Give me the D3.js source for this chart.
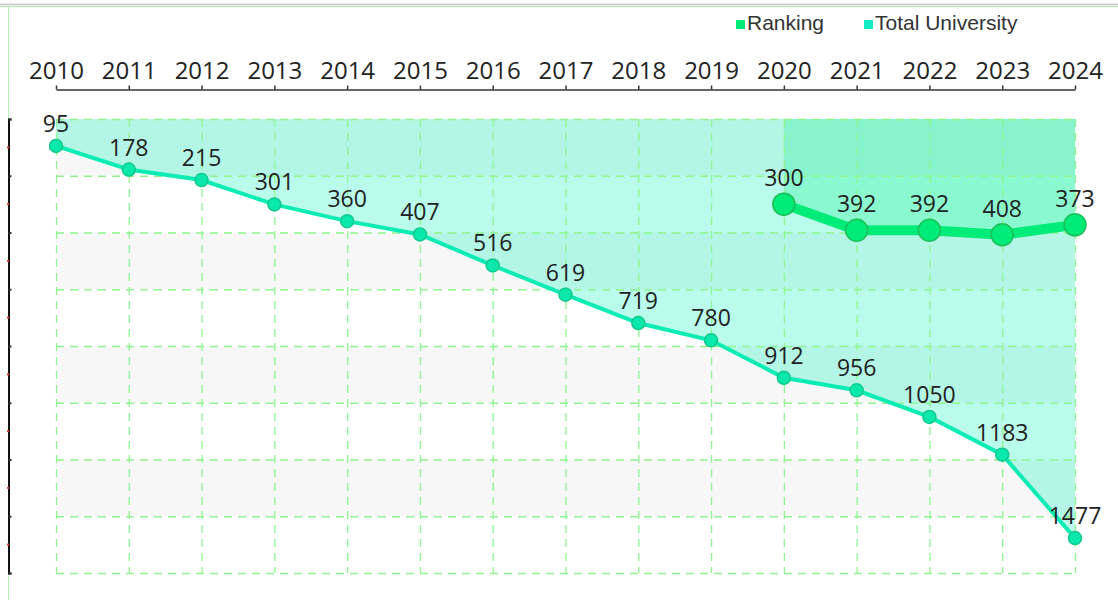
<!DOCTYPE html>
<html>
<head>
<meta charset="utf-8">
<script src="https://cdn.jsdelivr.net/npm/d3@7"></script>
<style>
  body { margin: 0; background: #fff; }
  svg { display: block; }
</style>
</head>
<body>
<svg class="canvas" width="1118" height="600"></svg>
<script>
const years = ["2010","2011","2012","2013","2014","2015","2016","2017","2018","2019","2020","2021","2022","2023","2024"];
const totalUniversity = [95,178,215,301,360,407,516,619,719,780,912,956,1050,1183,1477];
const rankingYears = ["2020","2021","2022","2023","2024"];
const ranking = [300,392,392,408,373];
const yTicks = [0,200,400,600,800,1000,1200,1400,1600];

const svg = d3.select(".canvas");
const font = "'Open Sans', sans-serif";

const x = d3.scalePoint().domain(years).range([56, 1075]);
const y = d3.scaleLinear().domain([0, 1600]).range([119, 573]);

// frame lines
svg.append("line").attr("x1", 0).attr("x2", 1118).attr("y1", 4.5).attr("y2", 4.5)
  .attr("stroke", "#cfcfcf").attr("stroke-width", 2);
svg.append("line").attr("x1", 0).attr("x2", 1118).attr("y1", 6.5).attr("y2", 6.5)
  .attr("stroke", "#b6f5b0").attr("stroke-width", 1);
svg.append("line").attr("x1", 8.5).attr("x2", 8.5).attr("y1", 6).attr("y2", 600)
  .attr("stroke", "#b6f5b0").attr("stroke-width", 1);

// split area bands
const bands = d3.pairs(yTicks);
svg.append("g").selectAll("rect").data(bands).enter().append("rect")
  .attr("x", x("2010")).attr("width", x("2024") - x("2010"))
  .attr("y", d => y(d[0])).attr("height", d => y(d[1]) - y(d[0]))
  .attr("fill", (d, i) => i % 2 === 0 ? "#f7f7f7" : "#ffffff");

const totalData = years.map((yr, i) => ({ yr, v: totalUniversity[i] }));
const rankData = rankingYears.map((yr, i) => ({ yr, v: ranking[i] }));

const area = d3.area().x(d => x(d.yr)).y0(y(0)).y1(d => y(d.v));
const line = d3.line().x(d => x(d.yr)).y(d => y(d.v));

svg.append("path").datum(totalData).attr("d", area)
  .attr("fill", "#1af5c0").attr("fill-opacity", 0.3);
svg.append("path").datum(rankData).attr("d", area)
  .attr("fill", "#00f07a").attr("fill-opacity", 0.25);

// grid
const grid = svg.append("g").attr("stroke", "#8ff58f").attr("stroke-width", 1.3)
  .attr("stroke-dasharray", "8,6");
grid.selectAll(".gx").data(years).enter().append("line")
  .attr("x1", d => x(d) + 0.5).attr("x2", d => x(d) + 0.5)
  .attr("y1", y(0)).attr("y2", y(1600));
grid.selectAll(".gy").data(yTicks).enter().append("line")
  .attr("x1", x("2010")).attr("x2", x("2024"))
  .attr("y1", d => y(d) + 0.5).attr("y2", d => y(d) + 0.5);

// x axis on top
const xAxis = svg.append("g").attr("transform", "translate(0,89.5)")
  .call(d3.axisTop(x).tickSize(4).tickSizeOuter(0).tickPadding(7));
xAxis.select(".domain").attr("stroke", "#333").attr("stroke-width", 1.5);
xAxis.selectAll(".tick line").attr("stroke", "#333").attr("stroke-width", 1.5);
xAxis.selectAll("text").attr("font-family", font).attr("font-size", 24)
  .attr("fill", "#222");

// y axis (inverse, labels hidden)
const yAxis = svg.append("g").attr("transform", "translate(8.5,0)")
  .call(d3.axisRight(y).tickValues(yTicks).tickSize(3).tickSizeOuter(3).tickFormat(""));
yAxis.select(".domain").attr("stroke", "#111").attr("stroke-width", 2);
yAxis.selectAll(".tick line").attr("stroke", "#333").attr("stroke-width", 2);
svg.append("g").selectAll("rect").data(bands).enter().append("rect")
  .attr("x", 7).attr("width", 2).attr("height", 2)
  .attr("y", d => y((d[0] + d[1]) / 2) - 1).attr("fill", "#e53935");

// total university series
svg.append("path").datum(totalData).attr("d", line)
  .attr("fill", "none").attr("stroke", "#0aecb4").attr("stroke-width", 4);
svg.append("g").selectAll("circle").data(totalData).enter().append("circle")
  .attr("cx", d => x(d.yr)).attr("cy", d => y(d.v)).attr("r", 6.5)
  .attr("fill", "#0ae8ac").attr("stroke", "#10c98f").attr("stroke-width", 1.5);

// ranking series
svg.append("path").datum(rankData).attr("d", line)
  .attr("fill", "none").attr("stroke", "#00ec78").attr("stroke-width", 10)
  .attr("stroke-linejoin", "round");
svg.append("g").selectAll("circle").data(rankData).enter().append("circle")
  .attr("cx", d => x(d.yr)).attr("cy", d => y(d.v)).attr("r", 11)
  .attr("fill", "#00ec78").attr("stroke", "#1fbf5a").attr("stroke-width", 1.5);

// labels
svg.append("g").selectAll("text").data(totalData).enter().append("text")
  .attr("x", d => x(d.yr)).attr("y", d => y(d.v) - 14)
  .attr("text-anchor", "middle").attr("font-family", font).attr("font-size", 23)
  .attr("fill", "#222").text(d => d.v);
svg.append("g").selectAll("text").data(rankData).enter().append("text")
  .attr("x", d => x(d.yr)).attr("y", d => y(d.v) - 18)
  .attr("text-anchor", "middle").attr("font-family", font).attr("font-size", 23)
  .attr("fill", "#222").text(d => d.v);

// legend
const legendItems = [
  { name: "Ranking", color: "#00ea78", x: 736 },
  { name: "Total University", color: "#12ecc0", x: 864 }
];
const lg = svg.append("g").selectAll("g").data(legendItems).enter().append("g")
  .attr("transform", d => `translate(${d.x},0)`);
lg.append("rect").attr("x", 0).attr("y", 20).attr("width", 9).attr("height", 9)
  .attr("fill", d => d.color);
lg.append("text").attr("x", 11).attr("y", 29.5)
  .attr("font-family", "'Liberation Sans', Arial, sans-serif").attr("font-size", 21)
  .attr("fill", "#333").text(d => d.name);
</script>
</body>
</html>
